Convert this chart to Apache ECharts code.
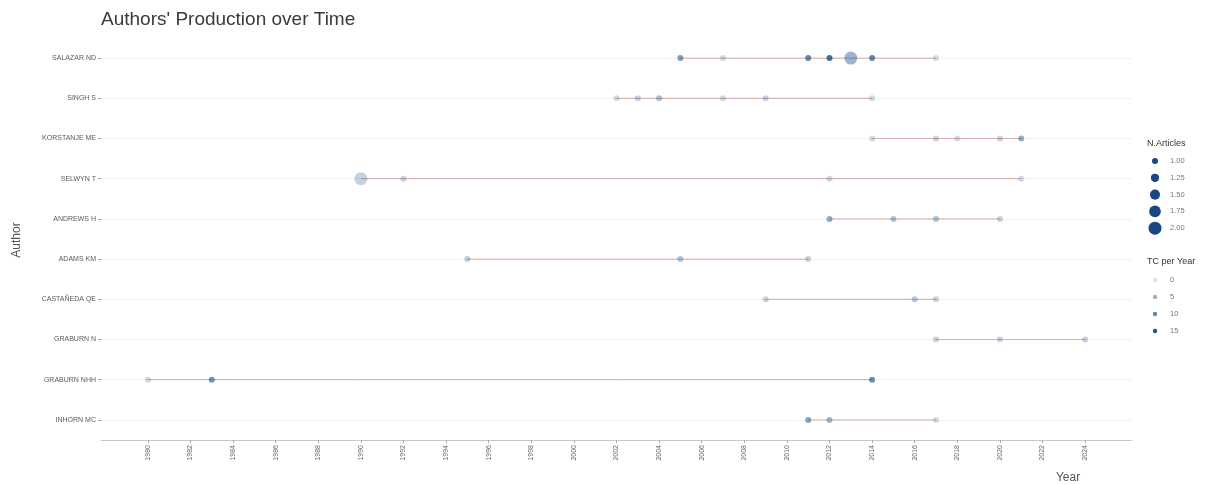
<!DOCTYPE html>
<html>
<head>
<meta charset="utf-8">
<script src="https://cdn.jsdelivr.net/npm/echarts@6/dist/echarts.min.js"></script>
<style>
html,body{margin:0;padding:0;background:#fff;}
#chart{width:1208px;height:485px;}
</style>
</head>
<body>
<div id="chart"></div>
<script>
// ---- data ----
const authors = ['SALAZAR ND','SINGH S','KORSTANJE ME','SELWYN T','ANDREWS H','ADAMS KM','CASTAÑEDA QE','GRABURN N','GRABURN NHH','INHORN MC'];
const pubYears = [
  [2005,2007,2011,2012,2013,2014,2017],
  [2002,2003,2004,2007,2009,2014],
  [2014,2017,2018,2020,2021],
  [1990,1992,2012,2021],
  [2012,2015,2017,2020],
  [1995,2005,2011],
  [2009,2016,2017],
  [2017,2020,2024],
  [1980,1983,2014],
  [2011,2012,2017]
];
const nArticles = [
  [1,1,1,1,2,1,1],
  [1,1,1,1,1,1],
  [1,1,1,1,1],
  [2,1,1,1],
  [1,1,1,1],
  [1,1,1],
  [1,1,1],
  [1,1,1],
  [1,1,1],
  [1,1,1]
];
const tcPerYear = [
  [10,2,13,16,7,13,2],
  [2,3,5,2,3,2],
  [2,3,2,3,8],
  [3,3,2,2],
  [8,5,5,3],
  [4,5,3],
  [3,4,3],
  [3,3,3],
  [2,11,12],
  [9,6,2]
];
const tickYears = [1980,1982,1984,1986,1988,1990,1992,1994,1996,1998,2000,2002,2004,2006,2008,2010,2012,2014,2016,2018,2020,2022,2024];
const sizeLegendValues = [1.00,1.25,1.50,1.75,2.00];
const tcLegendValues = [0,5,10,15];
// ---- styling helpers ----
const TC_MAX = 16;
function alphaFor(tc){ return 0.15 + 0.85*Math.min(tc,TC_MAX)/TC_MAX; }
function sizeFor(n){ return Math.sqrt(36 + 133*(n-1)); }
function pointColor(tc){ return 'rgba(16,78,139,' + alphaFor(tc).toFixed(3) + ')'; }

const series = [];
authors.forEach((a, i) => {
  const ys = pubYears[i];
  const s = {
    type: 'line',
    data: [[Math.min(...ys), a], [Math.max(...ys), a]],
    showSymbol: false,
    symbol: 'none',
    silent: true,
    z: 2,
    lineStyle: { color: 'rgba(178,34,34,0.3)', width: 1.2 }
  };
  if (i === 0) {
    s.markLine = {
      silent: true, symbol: 'none', z: 1,
      label: { show: false },
      lineStyle: { color: '#f0f0f0', width: 1, type: 'solid' },
      data: authors.map(x => ({ yAxis: x }))
    };
  }
  series.push(s);
});
const pts = [];
authors.forEach((a, i) => {
  pubYears[i].forEach((y, j) => pts.push([y, a, nArticles[i][j], tcPerYear[i][j]]));
});
series.push({
  type: 'scatter',
  data: pts,
  z: 5,
  symbolSize: v => sizeFor(v[2]),
  itemStyle: { color: p => pointColor(p.value[3]) }
});

// legend via graphics
const graphics = [];
const LX = 1155, LT = 1147;
graphics.push({ type:'text', left: LT, top: 139, style:{ text:'N.Articles', fontSize:9, fill:'#333', fontFamily:'Liberation Sans, Arial' } });
sizeLegendValues.forEach((v, k) => {
  const cy = 161 + k*16.8;
  graphics.push({ type:'circle', shape:{ cx: LX, cy: cy, r: sizeFor(v)/2 }, style:{ fill:'#1b4682' } });
  graphics.push({ type:'text', x: 1170, y: cy, style:{ text: v.toFixed(2), fontSize:7.5, fill:'#777', verticalAlign:'middle', fontFamily:'Liberation Sans, Arial' } });
});
graphics.push({ type:'text', left: LT, top: 257, style:{ text:'TC per Year', fontSize:9, fill:'#333', fontFamily:'Liberation Sans, Arial' } });
tcLegendValues.forEach((v, k) => {
  const cy = 280 + k*17;
  graphics.push({ type:'circle', shape:{ cx: LX, cy: cy, r: 2.2 }, style:{ fill: pointColor(v) } });
  graphics.push({ type:'text', x: 1170, y: cy, style:{ text: String(v), fontSize:7.5, fill:'#777', verticalAlign:'middle', fontFamily:'Liberation Sans, Arial' } });
});
graphics.push({ type:'text', x: 17, y: 240, rotation: Math.PI/2, style:{ text:'Author', fontSize:12, fill:'#555', align:'center', verticalAlign:'middle', fontFamily:'Liberation Sans, Arial' } });
graphics.push({ type:'text', x: 1068, y: 478, style:{ text:'Year', fontSize:12, fill:'#555', align:'center', verticalAlign:'middle', fontFamily:'Liberation Sans, Arial' } });

const chart = echarts.init(document.getElementById('chart'), null, { renderer: 'canvas' });
chart.setOption({
  animation: false,
  backgroundColor: '#fff',
  textStyle: { fontFamily: 'Liberation Sans, Arial' },
  title: { text: "Authors' Production over Time", left: 96, top: 5, textStyle: { fontSize: 19, fontWeight: 'normal', color: '#3a3a3a', fontFamily: 'Liberation Sans, Arial' } },
  grid: { left: 101, width: 1031, top: 38, height: 402, containLabel: false },
  xAxis: {
    type: 'value', min: 1977.8, max: 2026.2,
    axisLine: { show: true, lineStyle: { color: '#c8c8c8', width: 1 } },
    axisTick: { show: true, length: 3, lineStyle: { color: '#aaa' }, customValues: tickYears },
    axisLabel: { rotate: 90, fontSize: 7, color: '#666', margin: 5, customValues: tickYears, formatter: v => String(v) },
    splitLine: { show: false }
  },
  yAxis: {
    type: 'category', data: authors, inverse: true, boundaryGap: true,
    axisLine: { show: false },
    axisTick: { show: true, alignWithLabel: true, length: 3, lineStyle: { color: '#999' } },
    axisLabel: { fontSize: 7, color: '#5a5a5a', margin: 5 },
    splitLine: { show: false }
  },
  graphic: graphics,
  series: series
});
</script>
</body>
</html>
